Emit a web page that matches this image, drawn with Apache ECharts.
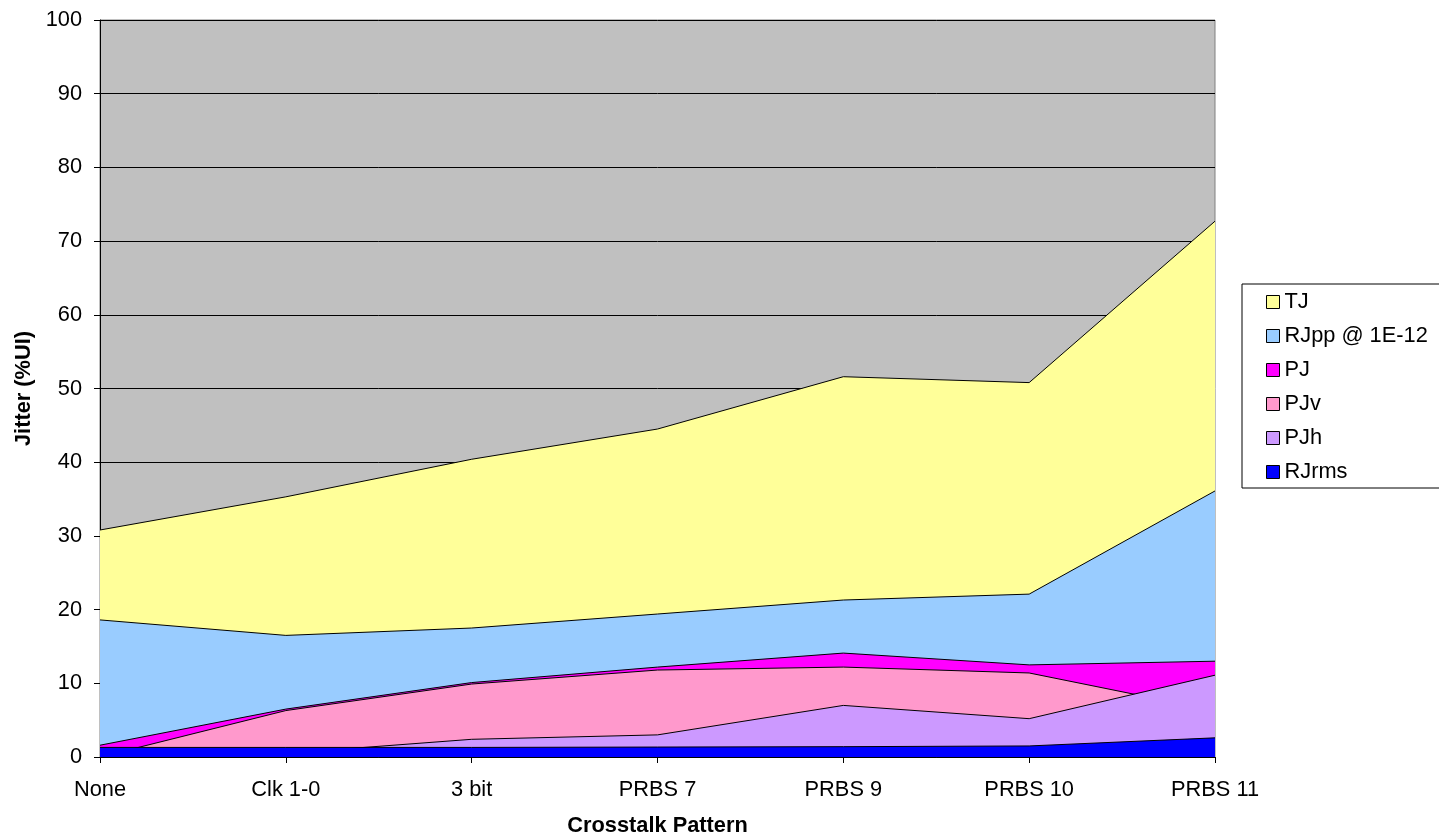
<!DOCTYPE html>
<html>
<head>
<meta charset="utf-8">
<script src="https://cdn.jsdelivr.net/npm/echarts@6/dist/echarts.min.js"></script>
<style>html,body{margin:0;padding:0;background:#fff;}#c{width:1439px;height:834px;}</style>
</head>
<body>
<div id="c"></div>
<script>
const categories = ['None', 'Clk 1-0', '3 bit', 'PRBS 7', 'PRBS 9', 'PRBS 10', 'PRBS 11'];
const TJ    = [30.8, 35.3, 40.4, 44.5, 51.6, 50.8, 72.7];
const RJpp  = [18.6, 16.5, 17.5, 19.4, 21.3, 22.1, 36.1];
const PJ    = [1.6, 6.5, 10.1, 12.2, 14.1, 12.5, 13.0];
const PJv   = [0.0, 6.3, 9.9, 11.8, 12.2, 11.4, 6.3];
const PJh   = [0.5, 0.5, 2.4, 3.0, 7.0, 5.2, 11.1];
const RJrms = [1.3, 1.3, 1.3, 1.35, 1.4, 1.5, 2.6];
const yTicks = [0, 10, 20, 30, 40, 50, 60, 70, 80, 90, 100];

const seriesDefs = [
  ['TJ', TJ, '#FFFF99'],
  ['RJpp @ 1E-12', RJpp, '#99CCFF'],
  ['PJ', PJ, '#FF00FF'],
  ['PJv', PJv, '#FF99CC'],
  ['PJh', PJh, '#CC99FF'],
  ['RJrms', RJrms, '#0000FF']
];

const font = 'Liberation Sans, Arial, sans-serif';
const fs = 21.8;
const chart = echarts.init(document.getElementById('c'), null, {renderer: 'canvas'});
chart.setOption({
  animation: false,
  backgroundColor: '#ffffff',
  grid: {left: 100, right: 224, top: 20, bottom: 77, outerBoundsMode: 'none', containLabel: false,
    show: true, backgroundColor: '#C0C0C0', borderColor: '#808080', borderWidth: 1},
  legend: {
    orient: 'vertical', left: 1242, top: 284,
    padding: [7, 12, 5, 24],
    borderColor: '#000', borderWidth: 1, backgroundColor: '#fff',
    itemWidth: 13, itemHeight: 13, itemGap: 12,
    icon: 'rect',
    itemStyle: {borderColor: '#000', borderWidth: 1},
    textStyle: {fontFamily: font, fontSize: fs, color: '#000', lineHeight: 22},
    data: seriesDefs.map(d => d[0])
  },
  xAxis: {
    type: 'category', data: categories, boundaryGap: false,
    name: 'Crosstalk Pattern', nameLocation: 'middle', nameGap: 58,
    nameTextStyle: {fontFamily: font, fontSize: fs, fontWeight: 'bold', color: '#000'},
    axisLine: {lineStyle: {color: '#000', width: 1}},
    axisTick: {show: true, length: 6, inside: false, alignWithLabel: true, lineStyle: {color: '#000'}},
    axisLabel: {fontFamily: font, fontSize: fs, color: '#000', margin: 22},
    splitLine: {show: false}
  },
  yAxis: {
    type: 'value', min: 0, max: 100, interval: 10,
    name: 'Jitter (%UI)', nameLocation: 'middle', nameGap: 64,
    nameTextStyle: {fontFamily: font, fontSize: fs, fontWeight: 'bold', color: '#000'},
    axisLine: {show: true, lineStyle: {color: '#000', width: 1}},
    axisTick: {show: true, length: 6, lineStyle: {color: '#000'}},
    axisLabel: {fontFamily: font, fontSize: fs, color: '#000', margin: 18,
      formatter: v => yTicks.includes(v) ? String(v) : ''},
    splitLine: {show: true, lineStyle: {color: '#000', width: 1}}
  },
  series: seriesDefs.map((d, i) => ({
    name: d[0], type: 'line', data: d[1], z: 2 + i,
    symbol: 'none', smooth: false,
    lineStyle: {color: '#000', width: 1},
    itemStyle: {color: d[2]},
    areaStyle: {color: d[2], opacity: 1}
  }))
});
</script>
</body>
</html>
